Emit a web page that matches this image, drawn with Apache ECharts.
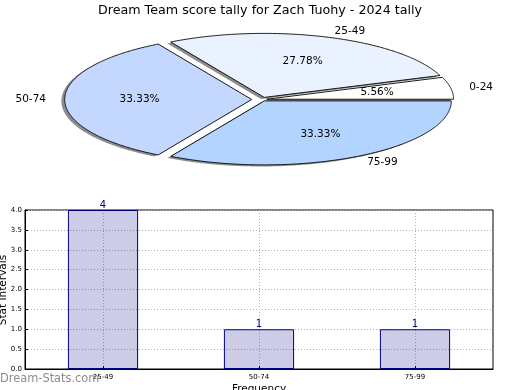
<!DOCTYPE html>
<html><head><meta charset="utf-8">
<script src="https://cdn.jsdelivr.net/npm/echarts@6/dist/echarts.min.js"></script>
<style>html,body{margin:0;padding:0;background:#fff}#c{width:520px;height:390px}</style>
</head><body><div id="c"></div>
<script>
const titleText = 'Dream Team score tally for Zach Tuohy - 2024 tally';
const pieLabels = ['0-24', '25-49', '50-74', '75-99'];
const pieValues = [1, 5, 6, 6];
const pieColors = ['#ffffff', '#eaf2ff', '#c4d8ff', '#b3d4ff'];
const pieExplode = [0.025, 0.035, 0.055, 0.025];
const barCategories = ['25-49', '50-74', '75-99'];
const barValues = [4, 1, 1];
const yAxisName = 'Stat Intervals';
const xAxisName = 'Frequency';
const watermark = 'Dream-Stats.com';

const FONT = 'DejaVu Sans';
const PIE = { cx: 262, cy: 99.5, rx: 187, ry: 64 };
const total = pieValues.reduce((a, b) => a + b, 0);
const starts = [];
let acc = 0;
pieValues.forEach(v => { starts.push(acc / total * 360); acc += v; });

function renderPie(params, api) {
  const i = params.dataIndex;
  const v = api.value(0);
  const a0 = starts[i], a1 = a0 + v / total * 360;
  const mid = (a0 + a1) / 2 * Math.PI / 180;
  const e = pieExplode[i];
  const ox = PIE.cx + e * PIE.rx * Math.cos(mid);
  const oy = PIE.cy - e * PIE.ry * Math.sin(mid);
  const pts = [[ox, oy]];
  const n = Math.max(4, Math.ceil((a1 - a0) * 2));
  for (let k = 0; k <= n; k++) {
    const t = (a0 + (a1 - a0) * k / n) * Math.PI / 180;
    pts.push([ox + PIE.rx * Math.cos(t), oy - PIE.ry * Math.sin(t)]);
  }
  const sh = pts.map(p => [p[0] - 0.018 * PIE.rx, p[1] + 0.025 * PIE.ry]);
  const c = Math.cos(mid), s = Math.sin(mid);
  const lx = ox + 1.1 * PIE.rx * c, ly = oy - 1.1 * PIE.ry * s;
  const px = ox + 0.6 * PIE.rx * c, py = oy - 0.6 * PIE.ry * s;
  const pct = (v / total * 100).toFixed(2) + '%';
  return {
    type: 'group',
    children: [
      { type: 'polygon', z2: 1, shape: { points: sh }, style: { fill: 'rgba(0,0,0,0.45)' }, silent: true },
      { type: 'polygon', z2: 10, shape: { points: pts }, style: { fill: pieColors[i], stroke: '#000', lineWidth: 0.9, lineJoin: 'round' } },
      { type: 'text', z2: 20, style: { text: pieLabels[i], x: lx, y: ly, align: c >= 0 ? 'left' : 'right', verticalAlign: 'middle', font: '10.5px "' + FONT + '"', fill: '#000' } },
      { type: 'text', z2: 20, style: { text: pct, x: px, y: py, align: 'center', verticalAlign: 'middle', font: '10.5px "' + FONT + '"', fill: '#000' } }
    ]
  };
}

const chart = echarts.init(document.getElementById('c'), null, { renderer: 'canvas' });
chart.setOption({
  animation: false,
  backgroundColor: '#fff',
  textStyle: { fontFamily: FONT },
  title: {
    text: titleText, left: 'center', top: -1,
    textStyle: { fontFamily: FONT, fontSize: 12.7, fontWeight: 'normal', color: '#000' }
  },
  graphic: [
    {
      type: 'text', left: 0, top: 374,
      style: { text: watermark, font: '11.4px "' + FONT + '"', fill: '#8c8c8c' }, z: 100
    },
    {
      type: 'text', x: 3, y: 290, rotation: Math.PI / 2,
      style: { text: yAxisName, font: '10.5px "' + FONT + '"', fill: '#000', align: 'center', verticalAlign: 'middle' }, z: 100
    }
  ],
  grid: {
    left: 25, right: 27, top: 210, bottom: 21,
    outerBoundsMode: 'none', containLabel: false,
    show: true, borderColor: '#000', borderWidth: 1, backgroundColor: 'transparent'
  },
  xAxis: {
    type: 'category', data: barCategories,
    name: xAxisName, nameLocation: 'middle', nameGap: 15,
    nameTextStyle: { fontFamily: FONT, fontSize: 10.5, color: '#000' },
    axisLine: { lineStyle: { color: '#000' } },
    axisTick: { show: true, inside: true, alignWithLabel: true, length: 3, lineStyle: { color: '#000' } },
    axisLabel: { fontFamily: FONT, fontSize: 7, color: '#000', margin: 5 },
    splitLine: { show: true, alignWithLabel: true, lineStyle: { color: '#b0b0b0', type: [1, 2] } }
  },
  yAxis: {
    type: 'value', min: 0, max: 4, interval: 0.5,
    axisLine: { show: true, lineStyle: { color: '#000' } },
    axisTick: { show: true, inside: true, length: 3, lineStyle: { color: '#000' } },
    axisLabel: { fontFamily: FONT, fontSize: 7, color: '#000', margin: 3, formatter: v => v.toFixed(1) },
    splitLine: { show: true, lineStyle: { color: '#b0b0b0', type: [1, 2] } }
  },
  series: [
    {
      type: 'custom', coordinateSystem: 'none', renderItem: renderPie,
      data: pieValues.map(v => [v]), z: 2
    },
    {
      type: 'bar', data: barValues, barWidth: '45%',
      itemStyle: { color: 'rgba(0,0,128,0.2)', borderColor: '#000080', borderWidth: 1 },
      label: { show: true, position: 'top', distance: 0, color: '#000080', fontFamily: FONT, fontSize: 10 }
    }
  ]
});
</script></body></html>
